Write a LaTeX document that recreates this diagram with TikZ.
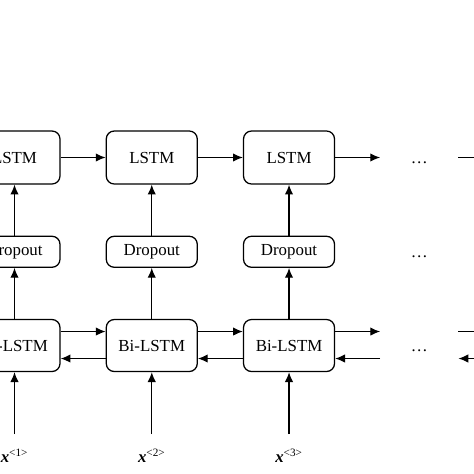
\documentclass[tikz,border=0pt]{standalone}
\usepackage{fontspec}
\setmainfont{Liberation Serif}
\usetikzlibrary{positioning,arrows.meta}

\begin{document}
\begin{tikzpicture}[>={Latex[length=7pt,width=6pt]},
	block/.style={
		rectangle,
		rounded corners=0.2cm,
		draw=black, line width=0.9pt,
		minimum height=1.325cm,
		minimum width=2.275cm,
		align=center,
		font=\fontsize{12pt}{14pt}\selectfont
	},
	dropblock/.style={block, minimum height=0.775cm},
	gap/.style={
		rectangle,
		line width=0.9pt,
		minimum height=1.325cm,
		minimum width=1.925cm,
		text height=0.8em, text depth=0pt,
		font=\fontsize{12pt}{14pt}\selectfont
	},
	label/.style={font=\fontsize{12pt}{14pt}\selectfont},
	link/.style={->, line width=0.9pt},
	node distance=1.275cm and 1.125cm]

	% Frame of the cut-out
	\useasboundingbox (0,0) rectangle (11.85,-11.85);
	\clip (0,0) rectangle (11.85,-11.85);

	% LSTM row
	\node [block] (lstm1) at (0.3625,-3.9375) {LSTM};
	\node [block,right=of lstm1] (lstm2) {LSTM};
	\node [block,right=of lstm2] (lstm3) {LSTM};
	\node [gap,right=of lstm3] (lstmdots) {\dots};
	\coordinate [right=1.5cm of lstmdots] (lstmnext);

	% Dropout row
	\node [dropblock,below=of lstm1] (drop1) {Dropout};
	\node [dropblock,below=of lstm2] (drop2) {Dropout};
	\node [dropblock,below=of lstm3] (drop3) {Dropout};
	\node [gap,minimum height=0.775cm,below=of lstmdots] (dropdots) {\dots};

	% Bi-LSTM row
	\node [block,minimum height=1.3cm,below=of drop1] (bilstm1) {Bi-LSTM};
	\node [block,minimum height=1.3cm,below=of drop2] (bilstm2) {Bi-LSTM};
	\node [block,minimum height=1.3cm,below=of drop3] (bilstm3) {Bi-LSTM};
	\node [gap,minimum height=1.3cm,below=of dropdots] (bidots) {\dots};
	\coordinate [right=1.5cm of bidots] (binext);

	% Inputs
	\node [label,below=1.8cm of bilstm1] (x1) {\textbf{\textit{x}}\textsuperscript{<1>}};
	\node [label,below=1.8cm of bilstm2] (x2) {\textbf{\textit{x}}\textsuperscript{<2>}};
	\node [label,below=1.8cm of bilstm3] (x3) {\textbf{\textit{x}}\textsuperscript{<3>}};

	%% Forward links of the LSTM row
	\draw [link] (lstm1) -- (lstm2);
	\draw [link] (lstm2) -- (lstm3);
	\draw [link] (lstm3) -- (lstmdots);
	\draw [link] (lstmdots) -- (lstmnext);

	%% Links up each column
	\foreach \i in {1,2,3} {
		\draw [link] (drop\i) -- (lstm\i);
		\draw [link] (bilstm\i) -- (drop\i);
		\draw [link, shorten <=0.25cm] (x\i) -- (bilstm\i);
	}

	%% Both directions of the Bi-LSTM row
	\draw [link] ([yshift=0.35cm]bilstm1.east) -- ([yshift=0.35cm]bilstm2.west);
	\draw [link] ([yshift=-0.325cm]bilstm2.west) -- ([yshift=-0.325cm]bilstm1.east);
	\draw [link] ([yshift=0.35cm]bilstm2.east) -- ([yshift=0.35cm]bilstm3.west);
	\draw [link] ([yshift=-0.325cm]bilstm3.west) -- ([yshift=-0.325cm]bilstm2.east);
	\draw [link] ([yshift=0.35cm]bilstm3.east) -- ([yshift=0.35cm]bidots.west);
	\draw [link] ([yshift=-0.325cm]bidots.west) -- ([yshift=-0.325cm]bilstm3.east);
	\draw [link] ([yshift=0.35cm]bidots.east) -- ([yshift=0.35cm]binext);
	\draw [link] ([yshift=-0.325cm]binext) -- ([yshift=-0.325cm]bidots.east);
\end{tikzpicture}
\end{document}
